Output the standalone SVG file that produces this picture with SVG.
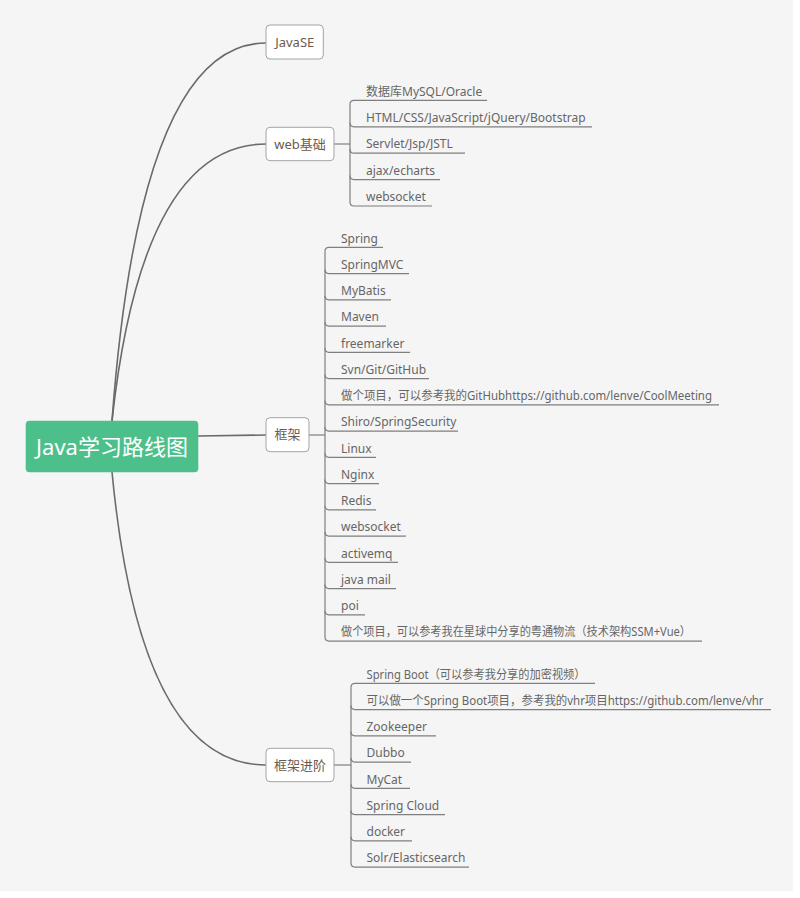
<svg xmlns="http://www.w3.org/2000/svg" width="800" height="898" viewBox="0 0 800 898">
<style>
.bg{fill:#f5f5f5}
.root rect{fill:#4dbf8a}
.root text{fill:#ffffff;font-size:22px}
.topic rect{fill:#ffffff;stroke:#a3a3a3;stroke-width:1}
.topic text{fill:#6b5b4f;font-size:13px}
text{font-family:'Noto Sans','Noto Sans CJK SC',sans-serif}
.leaf text{fill:#666666;font-size:12px}
.main{fill:none;stroke:#6a6a6a;stroke-width:1.6}
.br{fill:none;stroke:#7f7f7f;stroke-width:1.2}
</style>
<rect x="0" y="0" width="800" height="898" fill="#ffffff"/>
<rect class="bg" x="0" y="0" width="793" height="891"/>

<g id="connectors">
  <path class="main" d="M112,421 Q140,43 266,43"/>
  <path class="main" d="M112,421 Q142,144 266,144"/>
  <path class="main" d="M198,436 L266,435"/>
  <path class="main" d="M112,472 Q140,765 266,765"/>
  <!-- web spine -->
  <path class="br" d="M334,144 H350"/>
  <path class="br" d="M350,104.3 V202"/>
  <path class="br" d="M350,104.3 Q350,100.3 354,100.3 H487"/>
  <path class="br" d="M350,122.8 Q350,126.8 354,126.8 H592"/>
  <path class="br" d="M350,149.2 Q350,153.2 354,153.2 H465"/>
  <path class="br" d="M350,175.6 Q350,179.6 354,179.6 H440"/>
  <path class="br" d="M350,202 Q350,206 354,206 H432"/>
  <!-- 框架 spine -->
  <path class="br" d="M309,435 H325"/>
  <path class="br" d="M325,251.3 V637.05"/>
  <path class="br" d="M325,251.3 Q325,247.3 329,247.3 H383"/>
  <path class="br" d="M325,269.55 Q325,273.55 329,273.55 H409"/>
  <path class="br" d="M325,295.8 Q325,299.8 329,299.8 H391"/>
  <path class="br" d="M325,322.05 Q325,326.05 329,326.05 H386"/>
  <path class="br" d="M325,348.3 Q325,352.3 329,352.3 H410"/>
  <path class="br" d="M325,374.55 Q325,378.55 329,378.55 H429"/>
  <path class="br" d="M325,400.8 Q325,404.8 329,404.8 H719"/>
  <path class="br" d="M325,427.05 Q325,431.05 329,431.05 H458"/>
  <path class="br" d="M325,453.3 Q325,457.3 329,457.3 H376"/>
  <path class="br" d="M325,479.55 Q325,483.55 329,483.55 H379"/>
  <path class="br" d="M325,505.8 Q325,509.8 329,509.8 H376"/>
  <path class="br" d="M325,532.05 Q325,536.05 329,536.05 H406"/>
  <path class="br" d="M325,558.3 Q325,562.3 329,562.3 H398"/>
  <path class="br" d="M325,584.55 Q325,588.55 329,588.55 H396"/>
  <path class="br" d="M325,610.8 Q325,614.8 329,614.8 H365"/>
  <path class="br" d="M325,637.05 Q325,641.05 329,641.05 H702"/>
  <!-- 框架进阶 spine -->
  <path class="br" d="M334,765 H351"/>
  <path class="br" d="M351,687.3 V863.05"/>
  <path class="br" d="M351,687.3 Q351,683.3 355,683.3 H595"/>
  <path class="br" d="M351,705.55 Q351,709.55 355,709.55 H771"/>
  <path class="br" d="M351,731.8 Q351,735.8 355,735.8 H436"/>
  <path class="br" d="M351,758.05 Q351,762.05 355,762.05 H411"/>
  <path class="br" d="M351,784.3 Q351,788.3 355,788.3 H410"/>
  <path class="br" d="M351,810.55 Q351,814.55 355,814.55 H445"/>
  <path class="br" d="M351,836.8 Q351,840.8 355,840.8 H412"/>
  <path class="br" d="M351,863.05 Q351,867.05 355,867.05 H469"/>
</g>

<g id="root" class="root">
  <rect x="25.7" y="420.7" width="172.6" height="51.6" rx="4"/>
  <text x="112" y="454.5" text-anchor="middle">Java学习路线图</text>
</g>

<g id="javase" class="topic">
  <rect x="266" y="25" width="57.3" height="34" rx="4"/>
  <text x="294.7" y="46.8" text-anchor="middle">JavaSE</text>
</g>
<g id="web" class="topic">
  <rect x="266" y="127.3" width="68" height="33.4" rx="4"/>
  <text x="300" y="148.8" text-anchor="middle">web基础</text>
</g>
<g id="framework" class="topic">
  <rect x="266" y="417.7" width="43" height="34" rx="4"/>
  <text x="287.5" y="439.3" text-anchor="middle">框架</text>
</g>
<g id="advanced" class="topic">
  <rect x="266" y="748.3" width="68" height="33.4" rx="4"/>
  <text x="300" y="769.6" text-anchor="middle">框架进阶</text>
</g>

<g id="web-leaves" class="leaf">
  <g id="leaf-db"><text x="366" y="95.5">数据库MySQL/Oracle</text></g>
  <g id="leaf-html"><text x="366" y="122">HTML/CSS/JavaScript/jQuery/Bootstrap</text></g>
  <g id="leaf-servlet"><text x="366" y="148.4">Servlet/Jsp/JSTL</text></g>
  <g id="leaf-ajax"><text x="366" y="174.8">ajax/echarts</text></g>
  <g id="leaf-ws1"><text x="366" y="201.2">websocket</text></g>
</g>

<g id="framework-leaves" class="leaf">
  <g id="leaf-spring"><text x="341" y="242.5">Spring</text></g>
  <g id="leaf-springmvc"><text x="341" y="268.75">SpringMVC</text></g>
  <g id="leaf-mybatis"><text x="341" y="295">MyBatis</text></g>
  <g id="leaf-maven"><text x="341" y="321.25">Maven</text></g>
  <g id="leaf-freemarker"><text x="341" y="347.5">freemarker</text></g>
  <g id="leaf-svn"><text x="341" y="373.75">Svn/Git/GitHub</text></g>
  <g id="leaf-project1"><text x="341" y="400" textLength="371" lengthAdjust="spacingAndGlyphs">做个项目，可以参考我的GitHubhttps://github.com/lenve/CoolMeeting</text></g>
  <g id="leaf-shiro"><text x="341" y="426.25">Shiro/SpringSecurity</text></g>
  <g id="leaf-linux"><text x="341" y="452.5">Linux</text></g>
  <g id="leaf-nginx"><text x="341" y="478.75">Nginx</text></g>
  <g id="leaf-redis"><text x="341" y="505">Redis</text></g>
  <g id="leaf-ws2"><text x="341" y="531.25">websocket</text></g>
  <g id="leaf-activemq"><text x="341" y="557.5">activemq</text></g>
  <g id="leaf-javamail"><text x="341" y="583.75">java mail</text></g>
  <g id="leaf-poi"><text x="341" y="610">poi</text></g>
  <g id="leaf-project2"><text x="341" y="636.25" textLength="350" lengthAdjust="spacingAndGlyphs">做个项目，可以参考我在星球中分享的粤通物流（技术架构SSM+Vue）</text></g>
</g>

<g id="advanced-leaves" class="leaf">
  <g id="leaf-springboot"><text x="366.5" y="678.5" textLength="219" lengthAdjust="spacingAndGlyphs">Spring Boot（可以参考我分享的加密视频）</text></g>
  <g id="leaf-vhr"><text x="366.5" y="704.75" textLength="397" lengthAdjust="spacingAndGlyphs">可以做一个Spring Boot项目，参考我的vhr项目https://github.com/lenve/vhr</text></g>
  <g id="leaf-zookeeper"><text x="366.5" y="731">Zookeeper</text></g>
  <g id="leaf-dubbo"><text x="366.5" y="757.25">Dubbo</text></g>
  <g id="leaf-mycat"><text x="366.5" y="783.5">MyCat</text></g>
  <g id="leaf-springcloud"><text x="366.5" y="809.75">Spring Cloud</text></g>
  <g id="leaf-docker"><text x="366.5" y="836">docker</text></g>
  <g id="leaf-solr"><text x="366.5" y="862.25">Solr/Elasticsearch</text></g>
</g>
</svg>
